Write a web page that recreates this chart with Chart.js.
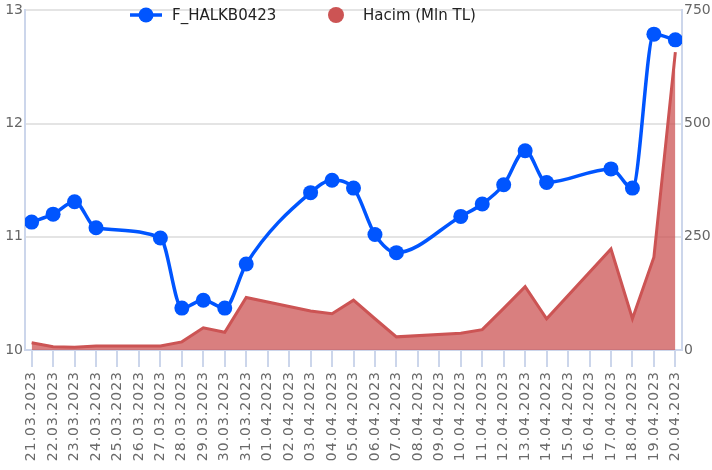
<!DOCTYPE html>
<html>
<head>
<meta charset="utf-8">
<script src="https://cdn.jsdelivr.net/npm/chart.js@4/dist/chart.umd.min.js"></script>
<style>
  html, body { margin: 0; padding: 0; background: #fff; }
  #wrap { width: 712px; height: 470px; }
</style>
</head>
<body>
<div id="wrap"><canvas id="c" width="712" height="470"></canvas></div>
<script>
// ---- data ----
const dates = [
  '21.03.2023','22.03.2023','23.03.2023','24.03.2023','25.03.2023','26.03.2023','27.03.2023',
  '28.03.2023','29.03.2023','30.03.2023','31.03.2023','01.04.2023','02.04.2023','03.04.2023',
  '04.04.2023','05.04.2023','06.04.2023','07.04.2023','08.04.2023','09.04.2023','10.04.2023',
  '11.04.2023','12.04.2023','13.04.2023','14.04.2023','15.04.2023','16.04.2023','17.04.2023',
  '18.04.2023','19.04.2023','20.04.2023'
];
const priceLabel = 'F_HALKB0423';
const priceValues = [
  11.13, 11.20, 11.31, 11.08, null, null, 10.99,
  10.37, 10.44, 10.37, 10.76, null, null, 11.39,
  11.50, 11.43, 11.02, 10.86, null, null, 11.18,
  11.29, 11.46, 11.76, 11.48, null, null, 11.60,
  11.43, 12.79, 12.74
];
const volumeLabel = 'Hacim (Mln TL)';
const volumeValues = [
  16, 7, 6, 9, null, null, 9,
  18, 49, 39, 116, null, null, 86,
  80, 110, 69, 29, null, null, 37,
  45, 92, 140, 69, null, null, 223,
  69, 205, 658
];
const priceTicks = [10, 11, 12, 13];
const volumeTicks = [0, 250, 500, 750];

// ---- styles ----
const BLUE = '#0055ff';
const RED = 'rgb(204,84,84)';
const RED_FILL = 'rgba(204,84,84,0.75)';
const AXIS = '#ccd6eb';
const GRID = '#e4e4e4';
const TICK = '#666666';

Chart.defaults.font.family = '"DejaVu Sans", Verdana, sans-serif';

const toXY = arr => arr.map((v, i) => ({ x: i, y: v }));

const legendPlugin = {
  id: 'customLegend',
  afterLayout(chart) {
    const s = chart.scales.x;
    if (s && !s._lsPatched) {
      const orig = s.drawLabels;
      s.drawLabels = function (area) {
        const ctx = this.ctx;
        ctx.save();
        try { ctx.letterSpacing = '1px'; } catch (e) {}
        orig.call(this, area);
        ctx.restore();
      };
      s._lsPatched = true;
    }
  },
  afterDraw(chart) {
    const ctx = chart.ctx;
    const ds = chart.data.datasets;
    ctx.save();
    ctx.font = '15px "DejaVu Sans", Verdana, sans-serif';
    ctx.textBaseline = 'middle';
    ctx.textAlign = 'left';
    const y = 15;
    ctx.strokeStyle = ds[0].borderColor;
    ctx.lineWidth = 3.5;
    ctx.beginPath(); ctx.moveTo(130, y); ctx.lineTo(162, y); ctx.stroke();
    ctx.fillStyle = ds[0].pointBackgroundColor;
    ctx.beginPath(); ctx.arc(146, y, 7.5, 0, Math.PI * 2); ctx.fill();
    ctx.fillStyle = '#222';
    ctx.fillText(ds[0].label, 172, y + 1);
    ctx.fillStyle = ds[1].borderColor;
    ctx.beginPath(); ctx.arc(336, y, 8, 0, Math.PI * 2); ctx.fill();
    ctx.fillStyle = '#222';
    ctx.fillText(ds[1].label, 363, y + 1);
    ctx.restore();
  }
};

new Chart(document.getElementById('c'), {
  type: 'line',
  data: {
    datasets: [
      {
        label: priceLabel,
        data: toXY(priceValues),
        yAxisID: 'y',
        borderColor: BLUE,
        backgroundColor: BLUE,
        pointBackgroundColor: BLUE,
        pointBorderColor: BLUE,
        borderWidth: 3.5,
        pointRadius: 7.5,
        pointBorderWidth: 0,
        cubicInterpolationMode: 'monotone',
        spanGaps: true,
        fill: false
      },
      {
        label: volumeLabel,
        data: toXY(volumeValues),
        yAxisID: 'y1',
        borderColor: RED,
        backgroundColor: RED_FILL,
        borderWidth: 3,
        pointRadius: 0,
        tension: 0,
        spanGaps: true,
        fill: 'origin'
      }
    ]
  },
  options: {
    responsive: false,
    animation: false,
    layout: { padding: { top: 0, left: 0, right: 0, bottom: 0 } },
    plugins: {
      legend: { display: false },
      tooltip: { enabled: false }
    },
    scales: {
      x: {
        type: 'linear',
        min: -0.31,
        max: 30.31,
        afterFit: s => { s.height = 120; },
        border: { color: AXIS, width: 2 },
        grid: { drawOnChartArea: false, drawTicks: true, tickLength: 17, color: AXIS, lineWidth: 2 },
        ticks: {
          stepSize: 1,
          includeBounds: false,
          autoSkip: false,
          maxRotation: 90,
          minRotation: 90,
          padding: 4,
          color: '#6a6a6a',
          font: { size: 14 },
          callback: v => (Number.isInteger(v) && dates[v] !== undefined) ? dates[v] : null
        }
      },
      y: {
        position: 'left',
        min: priceTicks[0],
        max: priceTicks[priceTicks.length - 1],
        afterFit: s => { s.width = 25; },
        afterBuildTicks: s => { s.ticks = priceTicks.map(v => ({ value: v })); },
        border: { color: AXIS, width: 2 },
        grid: { color: GRID, lineWidth: 2, drawTicks: false },
        ticks: { color: TICK, font: { size: 14 }, padding: 2 }
      },
      y1: {
        position: 'right',
        min: volumeTicks[0],
        max: volumeTicks[volumeTicks.length - 1],
        afterFit: s => { s.width = 30; },
        afterBuildTicks: s => { s.ticks = volumeTicks.map(v => ({ value: v })); },
        border: { color: AXIS, width: 2 },
        grid: { drawOnChartArea: false, drawTicks: false },
        ticks: { color: TICK, font: { size: 14 }, padding: 2 }
      }
    }
  },
  plugins: [legendPlugin]
});
</script>
</body>
</html>
